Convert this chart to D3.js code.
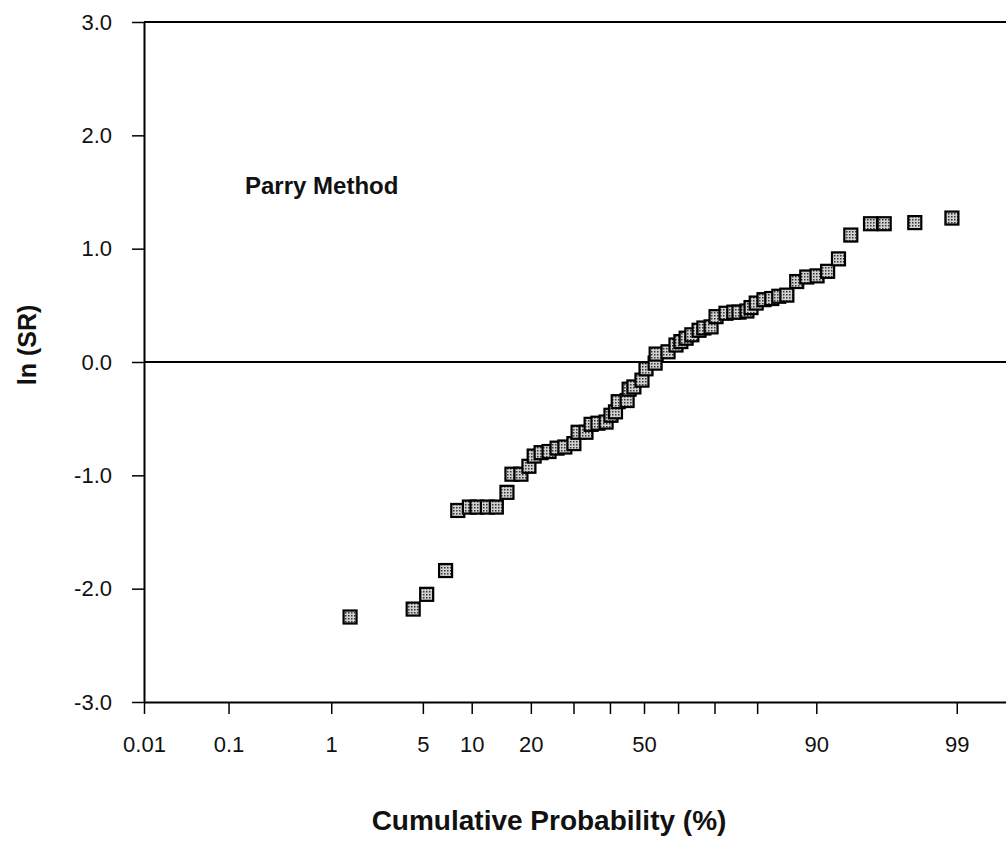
<!DOCTYPE html>
<html lang="en">
<head>
<meta charset="utf-8">
<title>Parry Method - ln(SR) probability plot</title>
<script src="https://d3js.org/d3.v7.min.js"></script>
<style>
  body { margin: 0; background: #fff; }
  text { font-family: "Liberation Sans", Arial, Helvetica, sans-serif; fill: #111; }
</style>
</head>
<body>
<script>

// data: cumulative probability (%) and ln(SR)
var probPct = [1.44, 4.3, 5.3, 7.0, 8.3, 9.7, 10.7, 12.2, 13.6, 15.4,
               16.3, 18.0, 19.6, 20.7, 22.2, 24.0, 25.9, 27.8, 30.1, 31.2,
               33.3, 34.7, 36.6, 38.9, 40.3, 41.6, 42.4, 45.0, 45.6, 47.0,
               49.4, 50.6, 53.3, 53.6, 57.1, 59.4, 60.8, 62.3, 63.9, 65.9,
               67.2, 69.1, 70.4, 72.9, 74.8, 76.0, 77.8, 78.7, 79.8, 81.4,
               82.9, 84.2, 85.6, 87.2, 88.7, 90.1, 91.4, 92.6, 93.8, 95.4,
               96.3, 97.8, 98.9];
var lnSR = [-2.25, -2.18, -2.05, -1.84, -1.31, -1.28, -1.28, -1.28, -1.28, -1.15,
            -0.99, -0.99, -0.92, -0.83, -0.80, -0.79, -0.76, -0.75, -0.72, -0.62,
            -0.62, -0.55, -0.54, -0.53, -0.47, -0.44, -0.35, -0.34, -0.24, -0.22,
            -0.16, -0.06, -0.01, 0.07, 0.09, 0.15, 0.18, 0.21, 0.24, 0.28,
            0.30, 0.31, 0.40, 0.43, 0.44, 0.44, 0.45, 0.48, 0.52, 0.55,
            0.56, 0.58, 0.59, 0.71, 0.75, 0.76, 0.80, 0.91, 1.12, 1.22,
            1.22, 1.23, 1.27];

var xTickVals = [0.01, 0.1, 1, 5, 10, 20, 30, 40, 50, 60, 70, 80, 90, 99];
var xTickLabels = ["0.01", "0.1", "1", "5", "10", "20", "", "", "50", "", "", "", "90", "99"];
var yTickVals = [-3, -2, -1, 0, 1, 2, 3];

// inverse normal cdf (Acklam) - used for the probability axis
function probit(p) {
	var a = [-39.69683028665376, 220.9460984245205, -275.9285104469687, 138.3577518672690, -30.66479806614716, 2.506628277459239];
	var b = [-54.47609879822406, 161.5858368580409, -155.6989798598866, 66.80131188771972, -13.28068155288572];
	var c = [-0.007784894002430293, -0.3223964580411365, -2.400758277161838, -2.549732539343734, 4.374664141464968, 2.938163982698783];
	var d = [0.007784695709041462, 0.3224671290700398, 2.445134137142996, 3.754408661907416];
	var pl = 0.02425, q, r;
	if (p < pl) {
		q = Math.sqrt(-2 * Math.log(p));
		return (((((c[0]*q+c[1])*q+c[2])*q+c[3])*q+c[4])*q+c[5]) / ((((d[0]*q+d[1])*q+d[2])*q+d[3])*q+1);
	}
	if (p > 1 - pl) {
		q = Math.sqrt(-2 * Math.log(1 - p));
		return -(((((c[0]*q+c[1])*q+c[2])*q+c[3])*q+c[4])*q+c[5]) / ((((d[0]*q+d[1])*q+d[2])*q+d[3])*q+1);
	}
	q = p - 0.5; r = q * q;
	return (((((a[0]*r+a[1])*r+a[2])*r+a[3])*r+a[4])*r+a[5])*q / (((((b[0]*r+b[1])*r+b[2])*r+b[3])*r+b[4])*r+1);
}

var width = 1006, height = 842;

var svg = d3.select("body")
	.append("svg")
		.attr("width", width)
		.attr("height", height);

// x is linear in the normal quantile; plot runs past the right edge (0.01 .. 99.99)
var x = d3.scaleLinear()
	.domain([probit(0.0001), probit(0.9999)])
	.range([144, 1144]);

var y = d3.scaleLinear()
	.domain([-3, 3])
	.range([702, 22]);

var xp = p => x(probit(p / 100));

// stippled fill for the markers
var pat = svg.append("defs").append("pattern")
	.attr("id", "stipple")
	.attr("width", 3)
	.attr("height", 3)
	.attr("patternUnits", "userSpaceOnUse");
pat.append("rect").attr("width", 3).attr("height", 3).attr("fill", "#d0d0d0");
pat.append("rect").attr("width", 1.5).attr("height", 1.5).attr("fill", "#333");

// frame: top border and zero line
svg.append("line")
	.attr("x1", x.range()[0]).attr("x2", width)
	.attr("y1", y(3)).attr("y2", y(3))
	.attr("stroke", "#000").attr("stroke-width", 2);

svg.append("line")
	.attr("x1", x.range()[0]).attr("x2", width)
	.attr("y1", y(0)).attr("y2", y(0))
	.attr("stroke", "#000").attr("stroke-width", 2);

// axes
svg.append("g")
	.attr("transform", "translate(0," + y(-3) + ")")
	.call(d3.axisBottom(x)
		.tickValues(xTickVals.map(p => probit(p / 100)))
		.tickFormat((d, i) => xTickLabels[i])
		.tickSize(12)
		.tickSizeOuter(0)
		.tickPadding(22));

svg.append("g")
	.attr("transform", "translate(" + x.range()[0] + ",0)")
	.call(d3.axisLeft(y)
		.tickValues(yTickVals)
		.tickFormat(d => d.toFixed(1))
		.tickSize(12)
		.tickSizeOuter(0)
		.tickPadding(20));

svg.selectAll(".domain").attr("stroke", "#000").attr("stroke-width", 2);
svg.selectAll(".tick line").attr("stroke", "#000").attr("stroke-width", 1.5);
svg.selectAll(".tick text")
	.attr("font-size", 22)
	.attr("font-family", "Liberation Sans, Arial, sans-serif")
	.attr("fill", "#111");

// markers
var size = 13;
svg.append("g")
	.selectAll("rect")
	.data(probPct)
	.enter()
	.append("rect")
		.attr("x", d => xp(d) - size / 2)
		.attr("y", (d, i) => y(lnSR[i]) - size / 2)
		.attr("width", size)
		.attr("height", size)
		.attr("fill", "url(#stipple)")
		.attr("stroke", "#000")
		.attr("stroke-width", 2.2);

// labels
svg.append("text")
	.attr("x", 245)
	.attr("y", 194)
	.attr("font-size", 24)
	.attr("font-weight", "bold")
	.text("Parry Method");

svg.append("text")
	.attr("transform", "translate(36,345) rotate(-90)")
	.attr("text-anchor", "middle")
	.attr("font-size", 25)
	.attr("font-weight", "bold")
	.text("ln (SR)");

svg.append("text")
	.attr("x", 549)
	.attr("y", 830)
	.attr("text-anchor", "middle")
	.attr("font-size", 28)
	.attr("font-weight", "bold")
	.text("Cumulative Probability (%)");

</script>
</body>
</html>
